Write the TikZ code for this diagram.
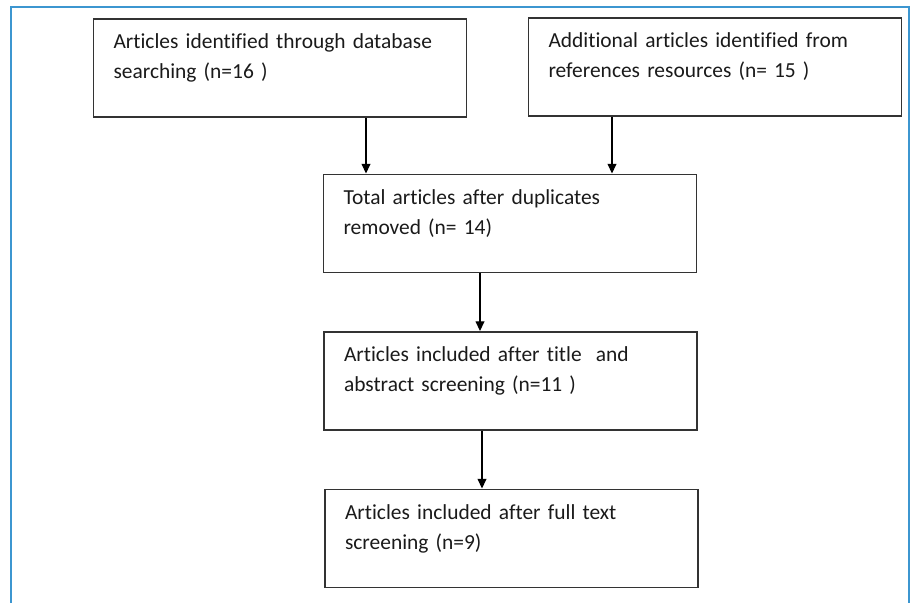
\documentclass[tikz,border=0pt]{standalone}
\usepackage{fontspec}
\setmainfont{Carlito}[Ligatures=NoCommon,WordSpace=0.6]
\usetikzlibrary{arrows.meta}

\definecolor{framebl}{HTML}{3C96D0}
\definecolor{boxline}{HTML}{333333}
\definecolor{txtcol}{HTML}{1A1A1A}

\newcommand\boxfont{\fontsize{12.2}{17}\selectfont}

\tikzset{
  box/.style={draw=boxline,line width=1.1pt,minimum width=7.46cm,minimum height=1.96cm,
    inner xsep=0.4cm,text width=6.66cm,align=left,text=txtcol,font=\boxfont},
  flow/.style={-{Triangle[length=5.5pt,width=5pt]},line width=0.7pt,black},
}

\begin{document}
\begin{tikzpicture}
  % page 913x603 px, 1 px = 0.02 cm
  \useasboundingbox (0,0) rectangle (18.26,12.06);
  % blue frame, open at the bottom
  \draw[framebl,line width=0.85pt] (0.22,0) -- (0.22,11.92) -- (18.18,11.92) -- (18.18,0);

  % the five boxes (centres measured from the reference)
  \node[box] (ident) at (5.60,10.70) {Articles identified through database\\searching (n=16 )\\[-9pt]\strut};
  \node[box] (extra) at (14.30,10.72) {Additional articles identified from\\references resources (n= 15 )\\[-9pt]\strut};
  \node[box] (total) at (10.20,7.59) {Total articles after duplicates\\removed (n= 14)\\[-9pt]\strut};
  \node[box] (screen) at (10.21,4.44) {Articles included after title\ \ and\\abstract screening (n=11 )\\[-9pt]\strut};
  \node[box] (fulltext) at (10.23,1.29) {Articles included after full text\\screening (n=9)\\[-9pt]\strut};

  % arrows, shifted from the bottom centre of each source box
  \foreach \a/\b/\s in {ident/total/1.72, extra/total/-2.06, total/screen/-0.60, screen/fulltext/-0.57} {
    \coordinate (tail) at ([xshift=\s cm]\a.south);
    \draw[flow] (tail) -- (tail |- \b.north);
  }
\end{tikzpicture}
\end{document}
